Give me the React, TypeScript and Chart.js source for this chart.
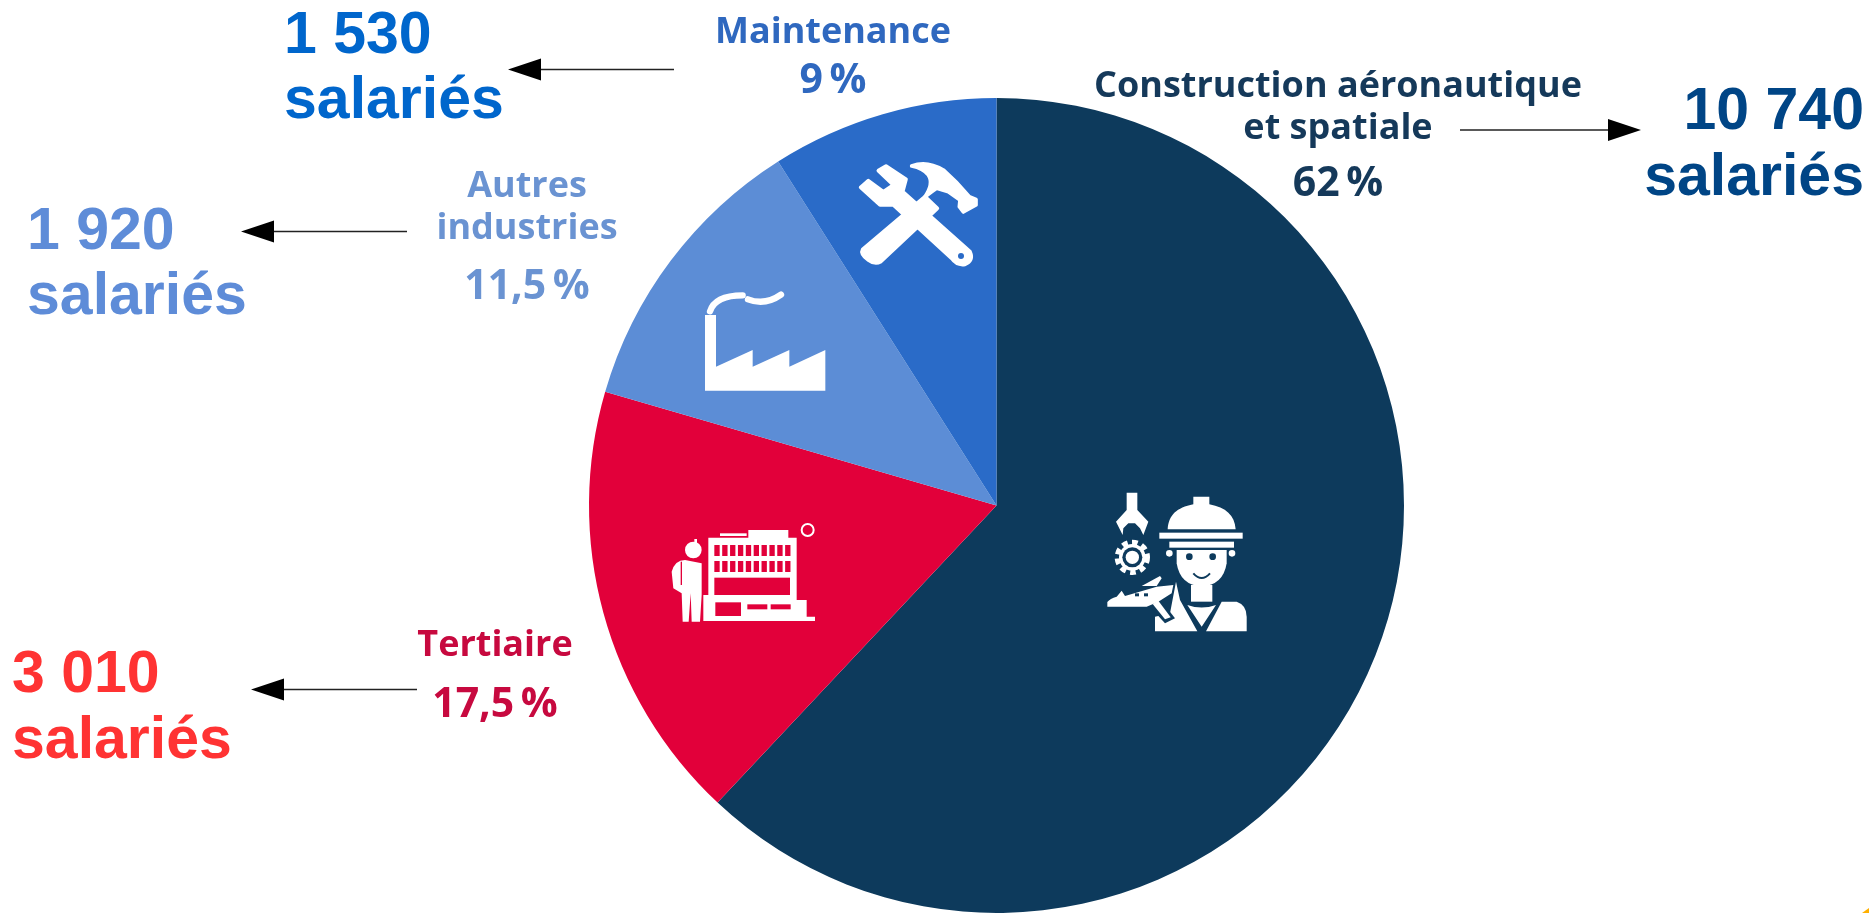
import React, { useEffect, useRef } from "react";
import { Chart, registerables } from "chart.js";

Chart.register(...registerables);

// ---------- Data ----------
const categories = ["Construction aéronautique et spatiale", "Tertiaire", "Autres industries", "Maintenance"];
const sharePercent = [62, 17.5, 11.5, 9];
const shareLabels = ["62 %", "17,5 %", "11,5 %", "9 %"];
const nameLines = [["Construction aéronautique", "et spatiale"], ["Tertiaire"], ["Autres", "industries"], ["Maintenance"]];
const staffLabels = ["10 740", "3 010", "1 920", "1 530"];
const staffUnit = "salariés";

// ---------- Styles ----------
const sliceColors = ["#0D3A5C", "#E2003A", "#5C8DD6", "#2A6BC8"];
const nameColors = ["#15395A", "#C7093F", "#6A93D2", "#2F68BF"];
const staffColors = ["#004586", "#FF3333", "#5E8CD8", "#0066CC"];

const W = 1869;
const H = 913;
const NAME_FONT = "bold 36px 'Open Sans'";
const SHARE_FONT = "bold 41px 'Open Sans'";
const STAFF_FONT = "bold 59px 'Liberation Sans'";
const SOFT = "blur(0.6px)";

// Layout per slice, same order as the categories.
const nameLayout = [
  { cx: 1338, baselines: [96.5, 139], shareBaseline: 195.5 },
  { cx: 495, baselines: [656, 656], shareBaseline: 717 },
  { cx: 527, baselines: [196.5, 239], shareBaseline: 299 },
  { cx: 833, baselines: [43], shareBaseline: 92.5 },
];
const staffLayout = [
  { x: 1864, align: "right", baselines: [129, 195] },
  { x: 12, align: "left", baselines: [692, 758] },
  { x: 27, align: "left", baselines: [249, 314] },
  { x: 284, align: "left", baselines: [53, 118] },
];
const arrowLayout = [
  { from: 1460, base: 1608, tip: 1641, y: 130 },
  { from: 417, base: 284, tip: 251, y: 689.5 },
  { from: 407, base: 274, tip: 241, y: 231.5 },
  { from: 674, base: 541, tip: 508, y: 69.5 },
];

function drawFactory(ctx: CanvasRenderingContext2D) {
  ctx.save();
  ctx.translate(680, 150);
  ctx.scale(1 / 3, 1 / 3);
  ctx.fillStyle = "#fff";
  ctx.strokeStyle = "#fff";
  ctx.fill(new Path2D("M75 722 L75 495 L108 495 L108 650 L218 600 L218 650 L328 600 L328 650 L436 600 L436 722 Z"));
  ctx.lineWidth = 19;
  ctx.lineCap = "round";
  ctx.stroke(new Path2D("M90 484 Q105 436 188 436"));
  ctx.stroke(new Path2D("M204 448 Q255 468 303 434"));
  // Tools
  ctx.lineWidth = 11;
  ctx.lineJoin = "round";
  const parts = [
    "M595 62 L618 48 L678 88 L668 125 L870 305 Q882 332 855 343 Q830 347 815 325 L640 165 L600 165 L542 112 L565 92 L610 125 L640 105 Z",
    "M548 298 L735 140 L772 175 L602 335 Q585 345 565 330 Q540 312 548 298 Z",
    "M695 48 Q740 30 790 60 Q830 95 868 140 L888 148 L888 165 L850 186 L838 170 L840 150 L805 125 L770 115 L755 125 L735 140 Q762 100 745 75 Q730 55 695 48 Z",
  ];
  parts.forEach((d) => {
    const p = new Path2D(d);
    ctx.fill(p);
    ctx.stroke(p);
  });
  ctx.fillStyle = sliceColors[3];
  ctx.beginPath();
  ctx.arc(843, 318, 9, 0, Math.PI * 2);
  ctx.fill();
  ctx.restore();
}

function drawWorker(ctx: CanvasRenderingContext2D) {
  const dark = sliceColors[0];
  ctx.save();
  ctx.translate(1080, 470);
  ctx.scale(1 / 3, 1 / 3);
  ctx.fillStyle = "#fff";
  ctx.strokeStyle = "#fff";
  // claw
  ctx.fill(new Path2D("M140 68 L172 68 L172 120 L205 155 L190 195 L180 175 L165 160 L145 160 L130 175 L128 195 L108 155 L140 120 Z"));
  // gear
  ctx.beginPath();
  ctx.arc(157, 262, 40, 0, Math.PI * 2);
  ctx.fill();
  ctx.save();
  ctx.lineWidth = 18;
  ctx.setLineDash([16.5, 12.8]);
  ctx.beginPath();
  ctx.arc(157, 262, 44, 0, Math.PI * 2);
  ctx.stroke();
  ctx.restore();
  ctx.fillStyle = dark;
  ctx.beginPath();
  ctx.arc(157, 262, 30, 0, Math.PI * 2);
  ctx.fill();
  ctx.fillStyle = "#fff";
  ctx.beginPath();
  ctx.arc(157, 262, 20, 0, Math.PI * 2);
  ctx.fill();
  // helmet
  ctx.fill(new Path2D("M263 178 C266 135 290 113 340 103 L340 80 L388 80 L388 103 C438 113 464 135 467 178 Z"));
  ctx.fillRect(238, 188, 250, 18);
  ctx.fillRect(268, 215, 194, 18);
  ctx.beginPath();
  ctx.arc(268, 250, 10, 0, Math.PI * 2);
  ctx.arc(456, 250, 10, 0, Math.PI * 2);
  ctx.fill();
  // face
  ctx.fill(new Path2D("M290 240 L440 240 L440 280 Q430 345 365 350 Q300 345 290 280 Z"));
  ctx.fillRect(333, 345, 64, 50);
  // body
  ctx.fill(new Path2D("M425 395 L470 395 Q500 405 500 440 L500 484 L378 484 Z"));
  ctx.fill(new Path2D("M322 405 Q365 420 408 405 L365 470 Z"));
  ctx.fill(new Path2D("M225 484 L225 440 L270 430 L288 335 L300 390 L352 484 Z"));
  // plane
  ctx.fillStyle = dark;
  ctx.fill(new Path2D("M205 405 L235 380 L285 445 L255 460 Z"));
  ctx.fillStyle = "#fff";
  ctx.fill(new Path2D("M82 410 L82 396 Q90 385 110 380 L125 362 L135 378 L230 350 L280 345 L275 370 L235 395 L200 410 Z"));
  ctx.fill(new Path2D("M185 348 L240 318 L245 325 L230 348 Z"));
  ctx.fill(new Path2D("M218 402 L235 392 L272 442 L255 448 Z"));
  ctx.fillStyle = dark;
  ctx.fillRect(165, 370, 12, 9);
  ctx.fillRect(192, 370, 12, 9);
  ctx.beginPath();
  ctx.arc(328, 260, 10, 0, Math.PI * 2);
  ctx.arc(398, 260, 10, 0, Math.PI * 2);
  ctx.fill();
  ctx.strokeStyle = dark;
  ctx.lineWidth = 6;
  ctx.stroke(new Path2D("M340 310 Q365 338 390 310"));
  ctx.restore();
}

function drawBuilding(ctx: CanvasRenderingContext2D) {
  const red = sliceColors[1];
  ctx.save();
  ctx.translate(660, 515);
  ctx.scale(1 / 3, 1 / 3);
  ctx.fillStyle = "#fff";
  ctx.fill(new Path2D("M145 68 L265 68 L265 45 L385 45 L385 68 L410 68 L410 255 L440 255 L440 305 L465 305 L465 318 L130 318 L130 240 L145 240 Z"));
  ctx.fillRect(180, 55, 80, 8);
  ctx.fillStyle = red;
  for (let i = 0; i < 10; i++) {
    ctx.fillRect(163 + i * 23.6, 90, 16, 33);
    ctx.fillRect(163 + i * 23.6, 138, 16, 33);
  }
  ctx.fillRect(163, 188, 227, 52);
  ctx.fillRect(166, 262, 77, 41);
  ctx.fillRect(262, 268, 60, 15);
  ctx.fillRect(332, 268, 60, 15);
  ctx.strokeStyle = "#fff";
  ctx.lineWidth = 6;
  ctx.beginPath();
  ctx.arc(443, 45, 18, 0, Math.PI * 2);
  ctx.stroke();
  // person
  const person = new Path2D(
    "M75 135 L125 145 L125 240 L120 320 L95 320 L92 235 L86 320 L68 320 L65 235 L40 220 L35 170 Q45 135 75 135 Z"
  );
  ctx.strokeStyle = red;
  ctx.lineWidth = 7;
  ctx.stroke(person);
  ctx.fillStyle = "#fff";
  ctx.fill(person);
  ctx.beginPath();
  ctx.arc(100, 105, 25, 0, Math.PI * 2);
  ctx.fill();
  ctx.fillRect(103, 72, 8, 20);
  ctx.fillStyle = red;
  ctx.fillRect(62, 140, 4, 70);
  ctx.restore();
}

const annotationsPlugin = {
  id: "annotations",
  afterDraw(chart: Chart) {
    const ctx = chart.ctx;
    ctx.save();
    ctx.textBaseline = "alphabetic";

    categories.forEach((_, i) => {
      const name = nameLayout[i];
      ctx.textAlign = "center";
      ctx.fillStyle = nameColors[i];
      ctx.filter = SOFT;
      ctx.font = NAME_FONT;
      (ctx as any).wordSpacing = "0px";
      nameLines[i].forEach((line, k) => ctx.fillText(line, name.cx, name.baselines[k]));
      ctx.font = SHARE_FONT;
      (ctx as any).wordSpacing = "-4px";
      ctx.fillText(shareLabels[i], name.cx, name.shareBaseline);
      (ctx as any).wordSpacing = "0px";
      ctx.filter = "none";

      const staff = staffLayout[i];
      ctx.textAlign = staff.align as CanvasTextAlign;
      ctx.fillStyle = staffColors[i];
      ctx.font = STAFF_FONT;
      ctx.fillText(staffLabels[i], staff.x, staff.baselines[0]);
      ctx.fillText(staffUnit, staff.x, staff.baselines[1]);

      const a = arrowLayout[i];
      ctx.strokeStyle = "#222";
      ctx.lineWidth = 1.4;
      ctx.beginPath();
      ctx.moveTo(a.from, a.y);
      ctx.lineTo(a.base, a.y);
      ctx.stroke();
      ctx.fillStyle = "#000";
      ctx.beginPath();
      ctx.moveTo(a.tip, a.y);
      ctx.lineTo(a.base, a.y - 11);
      ctx.lineTo(a.base, a.y + 11);
      ctx.closePath();
      ctx.fill();
    });

    ctx.filter = SOFT;
    drawFactory(ctx);
    drawWorker(ctx);
    drawBuilding(ctx);
    ctx.filter = "none";

    // small yellow corner mark at the bottom right of the picture
    ctx.fillStyle = "#FFB000";
    ctx.beginPath();
    ctx.moveTo(W, H - 5);
    ctx.lineTo(W, H);
    ctx.lineTo(W - 7, H);
    ctx.closePath();
    ctx.fill();
    ctx.restore();
  },
};

export default function App() {
  const ref = useRef<HTMLCanvasElement>(null);
  useEffect(() => {
    if (!ref.current) return;
    const chart = new Chart(ref.current, {
      type: "pie",
      data: {
        labels: categories,
        datasets: [{ data: sharePercent, backgroundColor: sliceColors, borderWidth: 0 }],
      },
      options: {
        animation: false,
        responsive: false,
        layout: { padding: { left: 589, right: 465, top: 98, bottom: 0 } },
        plugins: { legend: { display: false }, tooltip: { enabled: false }, title: { display: false } },
      },
      plugins: [annotationsPlugin],
    });
    return () => chart.destroy();
  }, []);
  return (
    <canvas
      ref={ref}
      width={W}
      height={H}
      style={{ position: "fixed", left: 0, top: 0, width: W, height: H, display: "block", background: "#fff" }}
    />
  );
}
